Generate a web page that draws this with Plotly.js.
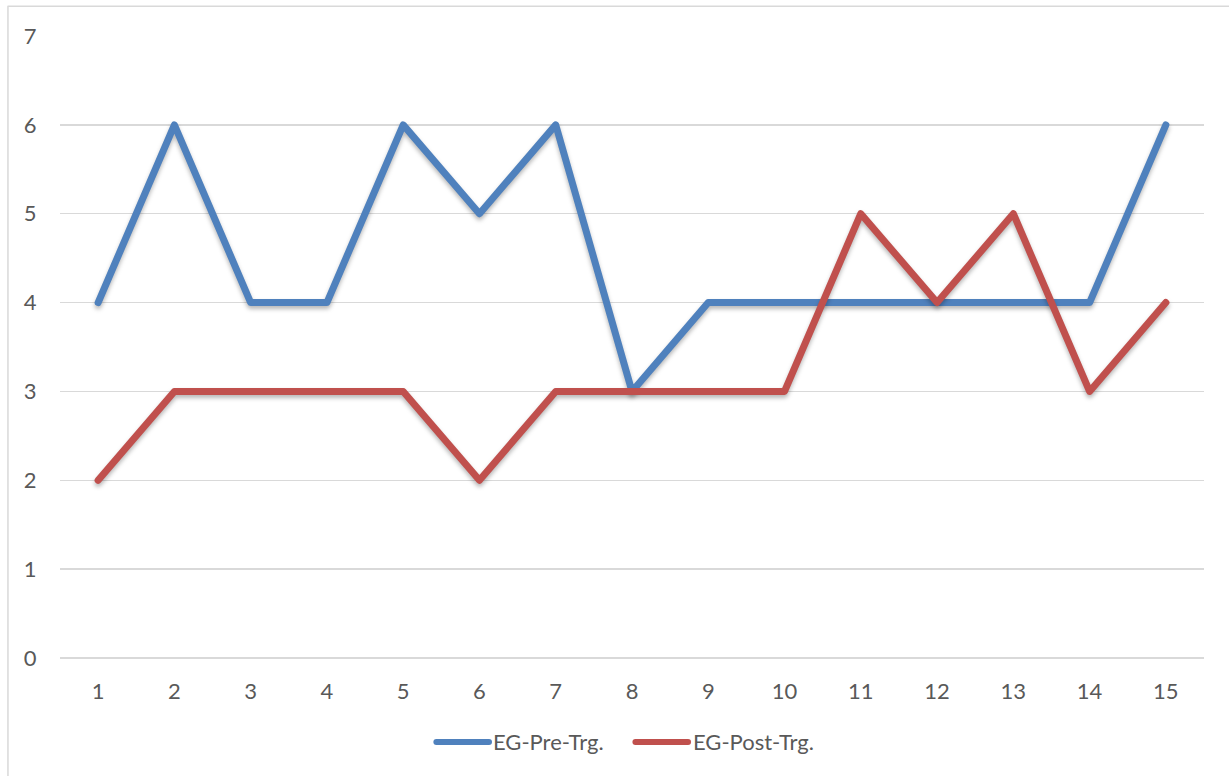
<!DOCTYPE html>
<html>
<head>
<meta charset="utf-8">
<script src="https://cdn.plot.ly/plotly-3.0.1.min.js"></script>
<style>
  html, body { margin: 0; padding: 0; background: #fff; }
  #chart { width: 1229px; height: 776px; }
  /* rounded joins and ends on the series lines and legend swatches */
  #chart .scatterlayer path.js-line,
  #chart .shapelayer path { stroke-linejoin: round; stroke-linecap: round; }
  /* soft shadow under the series lines */
  #chart .scatterlayer path.js-line { filter: drop-shadow(0px 3px 2px rgba(0,0,0,0.28)); }
</style>
</head>
<body>
<div id="chart"></div>
<script>
// Sessions 1..15 and the scores for each group
const sessions = ['1','2','3','4','5','6','7','8','9','10','11','12','13','14','15'];
const preTrg  = [4, 6, 4, 4, 6, 5, 6, 3, 4, 4, 4, 4, 4, 4, 6];
const postTrg = [2, 3, 3, 3, 3, 2, 3, 3, 3, 3, 5, 4, 5, 3, 4];
const yTicks = [0, 1, 2, 3, 4, 5, 6, 7];

const series = [
  { name: 'EG-Pre-Trg.',  values: preTrg,  color: '#4f81bd' },
  { name: 'EG-Post-Trg.', values: postTrg, color: '#c0504d' }
];

const FONT = 'Lato, "Open Sans", "Liberation Sans", sans-serif';
const TXT = '#595959';
const FS = 22;

const traces = series.map(s => ({
  x: sessions,
  y: s.values,
  type: 'scatter',
  mode: 'lines',
  name: s.name,
  line: { color: s.color, width: 7 },
  showlegend: false
}));

// Legend drawn below the plot: a swatch line followed by the series name
const legendPos = [
  { x0: 0.329, x1: 0.375, tx: 0.377 },
  { x0: 0.503, x1: 0.549, tx: 0.552 }
];
const legendY = -0.135;
const shapes = [
  // chart frame
  { type: 'rect', xref: 'paper', yref: 'paper',
    x0: -0.0455, x1: 1.04, y0: -0.205, y1: 1.048,
    line: { color: '#d9d9d9', width: 1.5 }, fillcolor: 'rgba(0,0,0,0)', layer: 'below' }
];
const annotations = [];
series.forEach((s, i) => {
  const p = legendPos[i];
  shapes.push({ type: 'line', xref: 'paper', yref: 'paper',
    x0: p.x0, x1: p.x1, y0: legendY, y1: legendY,
    line: { color: s.color, width: 6 } });
  annotations.push({ xref: 'paper', yref: 'paper', x: p.tx, y: legendY,
    xanchor: 'left', yanchor: 'middle', showarrow: false, text: s.name,
    font: { family: FONT, size: FS, color: TXT } });
});

const layout = {
  width: 1229,
  height: 776,
  margin: { l: 60, r: 25, t: 36, b: 118 },
  paper_bgcolor: '#ffffff',
  plot_bgcolor: '#ffffff',
  font: { family: FONT, size: FS, color: TXT },
  showlegend: false,
  xaxis: {
    type: 'category',
    tickvals: sessions,
    range: [-0.5, sessions.length - 0.5],
    showgrid: false,
    zeroline: false,
    showline: false,
    ticks: 'outside',
    ticklen: 14,
    tickcolor: 'rgba(0,0,0,0)',
    tickfont: { family: FONT, size: FS, color: TXT },
    fixedrange: true
  },
  yaxis: {
    range: [0, 7],
    tickvals: yTicks,
    showgrid: true,
    gridcolor: '#d9d9d9',
    gridwidth: 1.5,
    zeroline: true,
    zerolinecolor: '#d9d9d9',
    zerolinewidth: 2,
    showline: false,
    ticks: 'outside',
    ticklen: 18,
    tickcolor: 'rgba(0,0,0,0)',
    tickfont: { family: FONT, size: FS, color: TXT },
    fixedrange: true
  },
  shapes: shapes,
  annotations: annotations
};

Plotly.newPlot('chart', traces, layout, { displayModeBar: false, staticPlot: true });
</script>
</body>
</html>
